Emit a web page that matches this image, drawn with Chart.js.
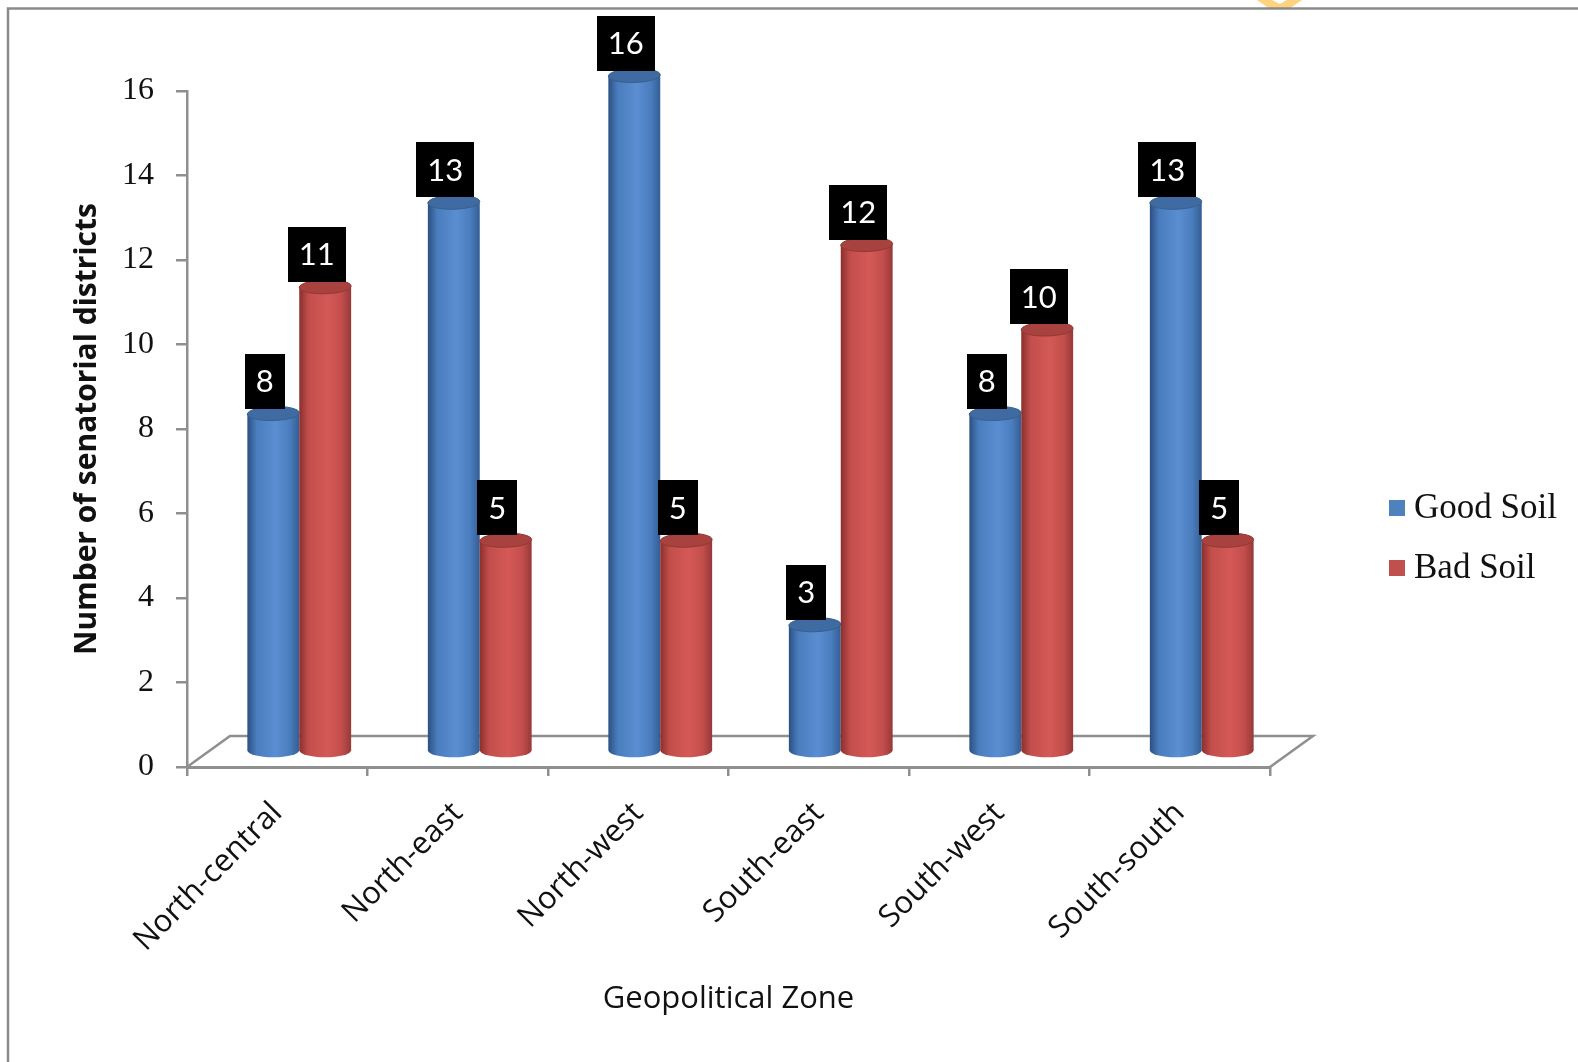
<!DOCTYPE html>
<html>
<head>
<meta charset="utf-8">
<title>Senatorial districts by soil quality</title>
<script src="https://cdn.jsdelivr.net/npm/chart.js@4.4.1/dist/chart.umd.min.js"></script>
<style>
  html, body { margin: 0; padding: 0; background: #ffffff; }
  #wrap { width: 1578px; height: 1062px; }
</style>
</head>
<body>
<div id="wrap"><canvas id="chart" width="1578" height="1062"></canvas></div>
<script>
// Geopolitical zones and counts of senatorial districts per soil class
const zones = ['North-central', 'North-east', 'North-west', 'South-east', 'South-west', 'South-south'];
const goodSoil = [8, 13, 16, 3, 8, 13];
const badSoil = [11, 5, 5, 12, 10, 5];
const seriesNames = ['Good Soil', 'Bad Soil'];
const yMin = 0;
const yMax = 16;
const yStep = 2;

// Cylinder palettes
const palettes = [
  { legend: '#4F81BD', edgeL: '#2B5082', mid: '#4A7DBD', hi: '#5A8ED2', edgeR: '#335E94', cap: '#3F6BA2', capRim: '#36608F' },
  { legend: '#C0504D', edgeL: '#8A302E', mid: '#C24E4B', hi: '#D45957', edgeR: '#97383A', cap: '#A8423F', capRim: '#933735' }
];

// 3D depth of the floor and the half-depth at which the columns stand
const DEPTH_X = 43, DEPTH_Y = -31;
const COL_X = 22, COL_Y = -15.5;
const CAP_RY = 7;
const AXIS_GRAY = '#8f8f8f';
const SANS = '"Open Sans"';

function cylinder(ctx, cx, halfW, topY, botY, pal) {
  const left = cx - halfW, right = cx + halfW;
  const g = ctx.createLinearGradient(left, 0, right, 0);
  g.addColorStop(0, pal.edgeL);
  g.addColorStop(0.18, pal.mid);
  g.addColorStop(0.55, pal.hi);
  g.addColorStop(0.82, pal.mid);
  g.addColorStop(1, pal.edgeR);
  ctx.save();
  ctx.beginPath();
  ctx.moveTo(left, topY);
  ctx.lineTo(left, botY);
  ctx.ellipse(cx, botY, halfW, CAP_RY, 0, Math.PI, 0, true);
  ctx.lineTo(right, topY);
  ctx.closePath();
  ctx.fillStyle = g;
  ctx.fill();
  // top cap
  ctx.beginPath();
  ctx.ellipse(cx, topY, halfW, CAP_RY, -0.03, 0, Math.PI * 2);
  ctx.fillStyle = pal.cap;
  ctx.fill();
  ctx.lineWidth = 1;
  ctx.strokeStyle = pal.capRim;
  ctx.stroke();
  ctx.restore();
}

const cylinderPlugin = {
  id: 'cylinders',
  beforeDraw(chart) {
    const ctx = chart.ctx;
    ctx.save();
    ctx.fillStyle = '#ffffff';
    ctx.fillRect(0, 0, chart.width, chart.height);
    // orange chevron peeking in at the top edge
    ctx.fillStyle = '#FFD27F';
    ctx.beginPath();
    ctx.moveTo(1257, 0);
    ctx.lineTo(1302, 0);
    ctx.lineTo(1289, 9);
    ctx.lineTo(1270, 9);
    ctx.closePath();
    ctx.fill();
    ctx.fillStyle = '#ffffff';
    ctx.beginPath();
    ctx.moveTo(1272, 0);
    ctx.lineTo(1287, 0);
    ctx.lineTo(1280, 4);
    ctx.closePath();
    ctx.fill();
    // frame
    ctx.strokeStyle = '#8a8a8a';
    ctx.lineWidth = 2.5;
    ctx.beginPath();
    ctx.moveTo(8, chart.height);
    ctx.lineTo(8, 8.5);
    ctx.lineTo(chart.width, 8.5);
    ctx.stroke();
    ctx.restore();
  },
  beforeDatasetsDraw(chart) {
    const ctx = chart.ctx;
    const a = chart.chartArea;
    ctx.save();
    ctx.strokeStyle = AXIS_GRAY;
    ctx.lineWidth = 2.5;
    ctx.beginPath();
    ctx.moveTo(a.left, a.bottom);
    ctx.lineTo(a.left + DEPTH_X, a.bottom + DEPTH_Y);
    ctx.lineTo(a.right + DEPTH_X, a.bottom + DEPTH_Y);
    ctx.lineTo(a.right, a.bottom);
    ctx.stroke();
    ctx.restore();
  },
  afterDatasetsDraw(chart) {
    const ctx = chart.ctx;
    const n = chart.data.labels.length;
    for (let i = 0; i < n; i++) {
      chart.data.datasets.forEach((ds, di) => {
        const bar = chart.getDatasetMeta(di).data[i];
        const cx = bar.x + COL_X;
        cylinder(ctx, cx, bar.width / 2, bar.y + COL_Y, bar.base + COL_Y, palettes[di]);
      });
    }
    // value boxes
    ctx.save();
    ctx.font = '31px Lato';
    ctx.textAlign = 'center';
    ctx.textBaseline = 'middle';
    chart.data.datasets.forEach((ds, di) => {
      chart.getDatasetMeta(di).data.forEach((bar, i) => {
        const txt = String(ds.data[i]);
        const w = ctx.measureText(txt).width + 22;
        const h = 55;
        const cx = bar.x + COL_X - 8.5;
        const bottom = bar.y + COL_Y - CAP_RY + 2;
        ctx.fillStyle = '#000000';
        ctx.fillRect(Math.round(cx - w / 2), Math.round(bottom - h), Math.round(w), h);
        ctx.fillStyle = '#ffffff';
        ctx.fillText(txt, cx, bottom - h / 2 + 1);
      });
    });
    ctx.restore();
    // legend
    ctx.save();
    ctx.font = '35px "Liberation Serif"';
    ctx.textAlign = 'left';
    ctx.textBaseline = 'middle';
    seriesNames.forEach((name, k) => {
      const y = 509 + k * 60;
      ctx.fillStyle = palettes[k].legend;
      ctx.fillRect(1389, y - 9, 16, 16);
      ctx.fillStyle = '#111111';
      ctx.fillText(name, 1414, y);
    });
    ctx.restore();
  }
};

new Chart(document.getElementById('chart'), {
  type: 'bar',
  data: {
    labels: zones,
    datasets: [
      { label: seriesNames[0], data: goodSoil, backgroundColor: 'rgba(0,0,0,0)', borderWidth: 0 },
      { label: seriesNames[1], data: badSoil, backgroundColor: 'rgba(0,0,0,0)', borderWidth: 0 }
    ]
  },
  options: {
    responsive: false,
    animation: false,
    events: [],
    layout: { padding: { top: 91, right: 308, left: 0, bottom: 0 } },
    datasets: { bar: { categoryPercentage: 0.575, barPercentage: 1.0 } },
    plugins: { legend: { display: false }, tooltip: { enabled: false } },
    scales: {
      x: {
        grid: { display: true, drawOnChartArea: false, drawTicks: true, tickLength: 9, color: AXIS_GRAY, lineWidth: 2.5, offset: true },
        border: { display: true, color: AXIS_GRAY, width: 3 },
        ticks: { color: '#111111', font: { family: SANS, size: 31 }, minRotation: 45, maxRotation: 45, autoSkip: false, padding: 19 },
        title: { display: true, text: 'Geopolitical Zone', color: '#111111', font: { family: SANS, size: 31 }, padding: { top: 0, bottom: 44 } },
        afterFit(s) { s.height = 295; }
      },
      y: {
        min: yMin, max: yMax,
        grid: { display: true, drawOnChartArea: false, drawTicks: true, tickLength: 11, color: AXIS_GRAY, lineWidth: 2.5 },
        border: { display: true, color: AXIS_GRAY, width: 2.5 },
        ticks: { stepSize: yStep, color: '#111111', font: { family: 'Liberation Serif', size: 32 }, padding: 22 },
        title: { display: true, text: 'Number of senatorial districts', color: '#111111', font: { family: SANS, size: 30, weight: 'bold' }, padding: { top: 69, bottom: 0 } },
        afterFit(s) { s.width = 187; }
      }
    }
  },
  plugins: [cylinderPlugin]
});
</script>
</body>
</html>
